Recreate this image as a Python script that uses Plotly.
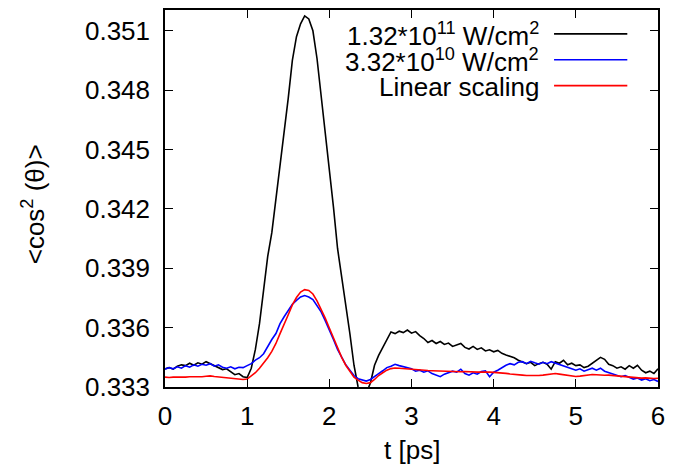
import plotly.graph_objects as go

# time grid (ps), step 0.05
T = [round(i * 0.05, 2) for i in range(121)]

# 1.32e11 W/cm^2
BLACK = [
    0.33392, 0.33398, 0.33390, 0.33405, 0.33412, 0.33408, 0.33420, 0.33410, 0.33422, 0.33415,
    0.33428, 0.33418, 0.33410, 0.33398, 0.33388, 0.33392, 0.33375, 0.33362, 0.33368, 0.33352,
    0.33348, 0.33395, 0.33490, 0.33620, 0.33790, 0.33960, 0.34080, 0.34250, 0.34400, 0.34570,
    0.34760, 0.34950, 0.35070, 0.35135, 0.35175, 0.35160, 0.35100, 0.34960, 0.34780, 0.34600,
    0.34420, 0.34210, 0.34000, 0.33860, 0.33730, 0.33570, 0.33410, 0.33300, 0.33260, 0.33270,
    0.33320, 0.33410, 0.33460, 0.33500, 0.33545, 0.33578, 0.33570, 0.33582, 0.33575, 0.33588,
    0.33572, 0.33580, 0.33560, 0.33545, 0.33525, 0.33535, 0.33520, 0.33530, 0.33515, 0.33522,
    0.33505, 0.33512, 0.33520, 0.33500, 0.33492, 0.33505, 0.33490, 0.33498, 0.33482, 0.33488,
    0.33478, 0.33485, 0.33470, 0.33462, 0.33455, 0.33448, 0.33435, 0.33428, 0.33418, 0.33425,
    0.33408, 0.33418, 0.33425, 0.33415, 0.33390, 0.33428, 0.33420, 0.33435, 0.33412, 0.33420,
    0.33408, 0.33412, 0.33398, 0.33405, 0.33420, 0.33435, 0.33450, 0.33440, 0.33415, 0.33408,
    0.33395, 0.33402, 0.33390, 0.33408, 0.33395, 0.33410, 0.33385, 0.33372, 0.33380, 0.33368,
    0.33392,
]

# 3.32e10 W/cm^2
BLUE = [
    0.33390, 0.33398, 0.33392, 0.33402, 0.33395, 0.33408, 0.33400, 0.33412, 0.33405, 0.33415,
    0.33410, 0.33418, 0.33405, 0.33412, 0.33400, 0.33395, 0.33402, 0.33392, 0.33400, 0.33398,
    0.33408, 0.33418, 0.33436, 0.33448, 0.33468, 0.33505, 0.33540, 0.33570, 0.33620, 0.33655,
    0.33690, 0.33718, 0.33738, 0.33755, 0.33762, 0.33755, 0.33742, 0.33712, 0.33680, 0.33635,
    0.33590, 0.33540, 0.33490, 0.33450, 0.33412, 0.33385, 0.33358, 0.33342, 0.33335, 0.33330,
    0.33338, 0.33355, 0.33368, 0.33382, 0.33398, 0.33405, 0.33415, 0.33408, 0.33402, 0.33395,
    0.33392, 0.33380, 0.33385, 0.33375, 0.33382, 0.33368, 0.33360, 0.33352, 0.33365, 0.33372,
    0.33380, 0.33375, 0.33390, 0.33368, 0.33360, 0.33372, 0.33365, 0.33378, 0.33382, 0.33352,
    0.33375, 0.33385, 0.33398, 0.33410, 0.33418, 0.33412, 0.33425, 0.33428, 0.33418, 0.33430,
    0.33422, 0.33415, 0.33425, 0.33418, 0.33428, 0.33420, 0.33412, 0.33408, 0.33398, 0.33392,
    0.33385, 0.33392, 0.33380, 0.33388, 0.33395, 0.33385, 0.33395, 0.33380, 0.33372, 0.33368,
    0.33358, 0.33352, 0.33358, 0.33348, 0.33340, 0.33345, 0.33335, 0.33342, 0.33332, 0.33338,
    0.33328,
]

# Linear scaling
RED = [
    0.33350, 0.33348, 0.33350, 0.33349, 0.33351, 0.33350, 0.33352, 0.33351, 0.33353, 0.33352,
    0.33354, 0.33356, 0.33353, 0.33351, 0.33349, 0.33347, 0.33345, 0.33343, 0.33340, 0.33338,
    0.33340, 0.33355, 0.33372, 0.33395, 0.33420, 0.33448, 0.33480, 0.33520, 0.33570, 0.33615,
    0.33665, 0.33715, 0.33752, 0.33780, 0.33792, 0.33788, 0.33770, 0.33735, 0.33695, 0.33648,
    0.33598, 0.33548, 0.33495, 0.33450, 0.33410, 0.33378, 0.33350, 0.33335, 0.33322, 0.33318,
    0.33322, 0.33338, 0.33358, 0.33372, 0.33385, 0.33393, 0.33396, 0.33395, 0.33393, 0.33390,
    0.33388, 0.33386, 0.33385, 0.33384, 0.33383, 0.33382, 0.33381, 0.33380, 0.33379, 0.33378,
    0.33379, 0.33378, 0.33377, 0.33378, 0.33376, 0.33377, 0.33375, 0.33376, 0.33374, 0.33375,
    0.33374, 0.33373, 0.33371, 0.33369, 0.33366, 0.33363, 0.33361, 0.33360, 0.33358, 0.33357,
    0.33357, 0.33358, 0.33360, 0.33363, 0.33366, 0.33368, 0.33365, 0.33362, 0.33359, 0.33356,
    0.33353, 0.33355, 0.33358, 0.33361, 0.33363, 0.33362, 0.33360, 0.33359, 0.33360, 0.33358,
    0.33355, 0.33352, 0.33350, 0.33348, 0.33346, 0.33344, 0.33345, 0.33346, 0.33344, 0.33343,
    0.33344,
]

SERIES_NAMES = ["1.32*10<sup>11</sup> W/cm<sup>2</sup>",
                "3.32*10<sup>10</sup> W/cm<sup>2</sup>",
                "Linear scaling"]
SERIES_COLORS = ["black", "#0000ff", "#ff0000"]

X_TICKS = [0, 1, 2, 3, 4, 5, 6]
Y_TICKS = [0.333, 0.336, 0.339, 0.342, 0.345, 0.348, 0.351]

assert len(BLACK) == len(T) and len(BLUE) == len(T) and len(RED) == len(T)

W, H = 673, 468
ML, MR, MT, MB = 165, 10, 8, 81
FONT = "Liberation Sans, Arial, sans-serif"
FS = 26

fig = go.Figure()
for ys, name, col in zip([BLACK, BLUE, RED], SERIES_NAMES, SERIES_COLORS):
    fig.add_trace(go.Scatter(x=T, y=ys, mode="lines", name=name,
                             line=dict(color=col, width=1.6), showlegend=False))

axis_common = dict(showline=True, linecolor="black", linewidth=1.5, mirror="allticks",
                   ticks="inside", ticklen=8, tickwidth=1, tickcolor="black",
                   showgrid=False, zeroline=False,
                   tickfont=dict(family=FONT, size=FS, color="black"))

fig.update_xaxes(range=[0, 6], tickvals=X_TICKS, ticklabelstandoff=5, **axis_common)
fig.update_yaxes(range=[0.333, 0.35205], tickvals=Y_TICKS, tickformat=".3f",
                 ticklabelstandoff=8, **axis_common)

# legend (gnuplot style: right-aligned text, line sample on the right)
pw, ph = W - ML - MR, H - MT - MB
def px2paper_x(px): return (px - ML) / pw
def px2paper_y(py): return (H - MB - py) / ph

leg_rows = [33, 59, 85]
for name, col, py in zip(SERIES_NAMES, SERIES_COLORS, leg_rows):
    fig.add_annotation(x=px2paper_x(545), y=px2paper_y(py), xref="paper", yref="paper",
                       text=name, showarrow=False, xanchor="right", yanchor="middle",
                       font=dict(family=FONT, size=FS, color="black"))
    fig.add_shape(type="line", xref="paper", yref="paper",
                  x0=px2paper_x(558), x1=px2paper_x(632),
                  y0=px2paper_y(py - 1), y1=px2paper_y(py - 1),
                  line=dict(color=col, width=1.6))

# axis titles
fig.add_annotation(x=0.5, y=px2paper_y(450), xref="paper", yref="paper",
                   text="t [ps]", showarrow=False, xanchor="center", yanchor="middle",
                   font=dict(family=FONT, size=FS, color="black"))
fig.add_annotation(x=px2paper_x(33), y=px2paper_y(203), xref="paper", yref="paper",
                   text="<cos<sup>2</sup> (θ)>", showarrow=False, textangle=-90,
                   xanchor="center", yanchor="middle",
                   font=dict(family=FONT, size=FS, color="black"))

fig.update_layout(width=W, height=H, margin=dict(l=ML, r=MR, t=MT, b=MB),
                  plot_bgcolor="white", paper_bgcolor="white", showlegend=False)

fig.write_html("out.html")
